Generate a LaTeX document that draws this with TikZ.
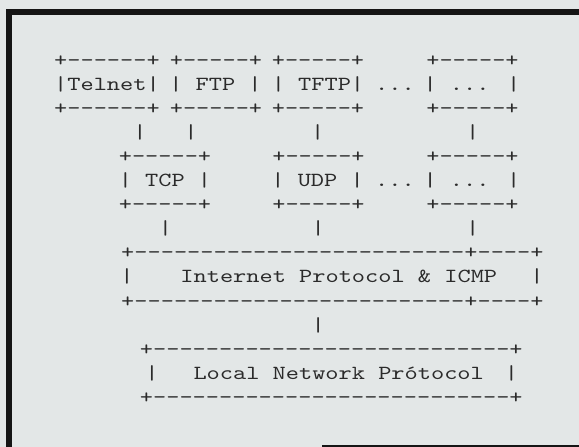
\documentclass[tikz,border=0pt]{standalone}
\usepackage{fontspec}
\usepackage{xcolor}
\usepackage{tikz}
\newfontfamily\asciitt[FakeStretch=1.257,Ligatures=TeXOff]{lmmono10-regular.otf}
\definecolor{ScanGrey}{HTML}{E3E7E7}
\definecolor{InkGrey}{HTML}{2B2B2B}
\definecolor{FrameInk}{HTML}{151515}

\begin{document}
\begin{tikzpicture}[
  x=1pt,y=-1pt,
  every node/.style={font=\asciitt\fontsize{20}{20}\selectfont,text=InkGrey,
    inner sep=0pt,anchor=base},
  frame/.style={draw=FrameInk,line width=6pt}
]
\useasboundingbox (0,0) rectangle (579,447);
\fill[ScanGrey] (0,0) rectangle (579,447);
\begin{scope}
  \clip (0,0) rectangle (579,447);
  \draw[frame] (600,12) -- (9,12) -- (9,470);
  \draw[frame,line width=2.5pt] (322,446) -- (600,446);
\end{scope}
% application row
\node (telnettop) at (107,66) {+------+};
\node (ftptop) at (216,66) {+-----+};
\node (tftptop) at (318,66) {+-----+};
\node (apptop) at (472.5,66) {+-----+};
\node (telnet) at (107,90.1) {|Telnet|};
\node (ftp) at (215.5,90.1) {| FTP |};
\node (tftp) at (318,90.1) {| TFTP|};
\node (appdots) at (395,90.1) {...};
\node (app) at (472,90.1) {| ... |};
\node (telnetbot) at (107,114.2) {+------+};
\node (ftpbot) at (216,114.2) {+-----+};
\node (tftpbot) at (318,114.2) {+-----+};
\node (appbot) at (472.5,114.2) {+-----+};
\node (telnetbar) at (140,138.3) {|};
\node (ftpbar) at (191,138.3) {|};
\node (tftpbar) at (317.6,138.3) {|};
\node (appbar) at (472.7,138.3) {|};
% transport row
\node (tcptop) at (165,162.4) {+-----+};
\node (udptop) at (318.5,162.4) {+-----+};
\node (transtop) at (472.5,162.4) {+-----+};
\node (tcp) at (165,186.5) {| TCP |};
\node (udp) at (317.6,186.5) {| UDP |};
\node (transdots) at (395,186.5) {...};
\node (trans) at (472,186.5) {| ... |};
\node (tcpbot) at (165,210.6) {+-----+};
\node (udpbot) at (318.5,210.6) {+-----+};
\node (transbot) at (472.5,210.6) {+-----+};
\node (tcpbar) at (165.4,234.7) {|};
\node (udpbar) at (318.3,234.7) {|};
\node (transbar) at (472.7,234.7) {|};
% internet layer
\node (iptop) at (332.4,258.8) {+-------------------------+----+};
\node (ipleft) at (127,282.9) {|};
\node (ip) at (338.8,282.9) {Internet Protocol \& ICMP};
\node (ipright) at (537,282.9) {|};
\node (ipbot) at (332.4,307) {+-------------------------+----+};
\node (ipbar) at (318.3,331.1) {|};
% local network
\node (lantop) at (331.3,355.2) {+---------------------------+};
\node (lanleft) at (152,379.3) {|};
\node (lan) at (338.7,379.3) {Local Network Prótocol};
\node (lanright) at (511.4,379.3) {|};
\node (lanbot) at (331.3,403.4) {+---------------------------+};
\end{tikzpicture}
\end{document}
